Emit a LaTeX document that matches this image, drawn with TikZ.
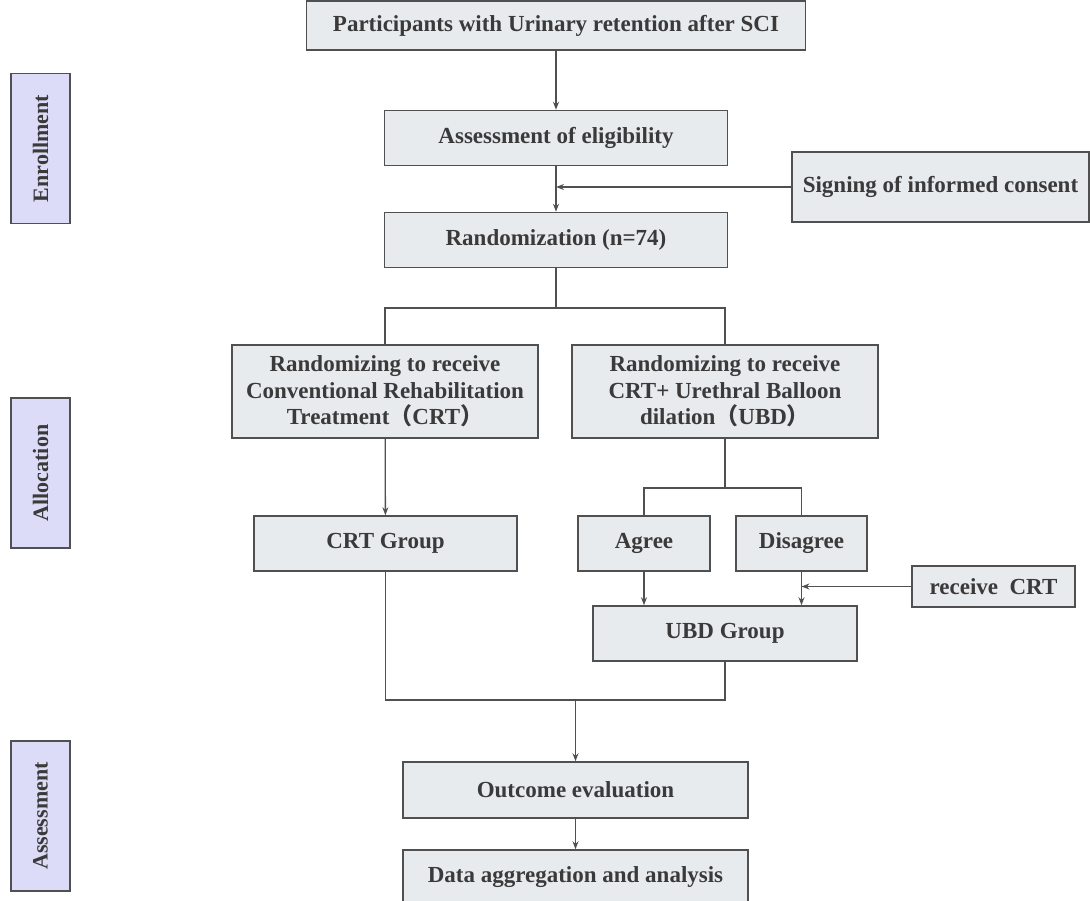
\documentclass[tikz,border=0pt]{standalone}
\usepackage{fontspec}
\setmainfont{Liberation Serif}
\newfontfamily\cjk{Noto Sans CJK SC}
\usetikzlibrary{arrows.meta}

\definecolor{boxfill}{HTML}{E8EBEE}
\definecolor{boxline}{HTML}{505050}
\definecolor{stagefill}{HTML}{DCDCF8}
\definecolor{inkgray}{HTML}{3A3A3A}

\tikzset{
    stepbox/.style={draw=boxline, fill=boxfill, line width=1.5pt, text=inkgray,
        font=\bfseries\fontsize{23}{26.5}\selectfont, align=center, inner sep=0pt},
    stagebox/.style={draw=boxline, fill=stagefill, line width=1.3pt, text=inkgray,
        font=\bfseries\fontsize{22}{26}\selectfont, rotate=90,
        minimum width=150pt, minimum height=59pt, inner sep=0pt},
    flow/.style={draw=boxline, line width=1.3pt},
    arr/.style={flow, -{Stealth[length=8pt,width=6pt]}}
}

\begin{document}
\begin{tikzpicture}[x=1pt, y=-1pt]
    \useasboundingbox (0,0) rectangle (1090,900);

    % stage labels
    \node[stagebox] (enroll) at (40.5,148.5) {Enrollment};
    \node[stagebox] (alloc) at (40.5,473) {Allocation};
    \node[stagebox] (assessm) at (40.5,816) {Assessment};

    % enrollment
    \node[stepbox, minimum width=499pt, minimum height=49pt] (part) at (556,25.5) {Participants with Urinary retention after SCI};
    \node[stepbox, minimum width=343pt, minimum height=55pt] (elig) at (556,138) {Assessment of eligibility};
    \node[stepbox, minimum width=297pt, minimum height=70pt] (consent) at (940.5,187) {Signing of informed consent};
    \node[stepbox, minimum width=343pt, minimum height=55pt] (rand) at (556,240) {Randomization (n=74)};

    % allocation
    \node[stepbox, minimum width=306pt, minimum height=93pt] (crt) at (385,391.5)
        {Randomizing to receive\\Conventional Rehabilitation\\Treatment{\cjk （}CRT{\cjk ）}};
    \node[stepbox, minimum width=306pt, minimum height=93pt] (ubd) at (725,391.5)
        {Randomizing to receive\\CRT+ Urethral Balloon\\dilation{\cjk （}UBD{\cjk ）}};
    \node[stepbox, minimum width=263pt, minimum height=55pt] (crtg) at (385.5,543.5) {CRT Group};
    \node[stepbox, minimum width=132pt, minimum height=55pt] (agree) at (644,543.5) {Agree};
    \node[stepbox, minimum width=131pt, minimum height=55pt] (disagree) at (801.5,543.5) {Disagree};
    \node[stepbox, minimum width=163pt, minimum height=41pt] (recv) at (993.5,586.5) {receive\ \ CRT};
    \node[stepbox, minimum width=264pt, minimum height=55pt] (ubdg) at (725,633.5) {UBD Group};

    % assessment
    \node[stepbox, minimum width=345pt, minimum height=56pt] (outcome) at (575.5,790) {Outcome evaluation};
    \node[stepbox, minimum width=345pt, minimum height=55pt] (data) at (575.5,877.5) {Data aggregation and analysis};

    \coordinate (j1) at (elig.south |- consent.west);
    \coordinate (br1) at (556,308);
    \coordinate (br2) at (725,488);
    \coordinate (j2) at (disagree.south |- recv.west);
    \coordinate (mrg) at (outcome.north |- 0,700);

    \draw[arr] (part) -- (elig);
    \draw[arr] (elig) -- (rand);
    \draw[arr] (consent) -- (j1);
    \draw[flow] (rand) -- (br1);
    \draw[flow] (crt.north) |- (br1) -| (ubd.north);
    \draw[arr] (crt) -- (crtg);
    \draw[flow] (ubd) -- (br2);
    \draw[flow] (agree.north) |- (br2) -| (disagree.north);
    \draw[arr] (agree.south) -- (agree.south |- ubdg.north);
    \draw[arr] (disagree.south) -- (disagree.south |- ubdg.north);
    \draw[arr] (recv) -- (j2);
    \draw[flow] (crtg.south) |- (mrg) -| (ubdg.south);
    \draw[arr] (mrg) -- (outcome);
    \draw[arr] (outcome) -- (data);
\end{tikzpicture}
\end{document}
